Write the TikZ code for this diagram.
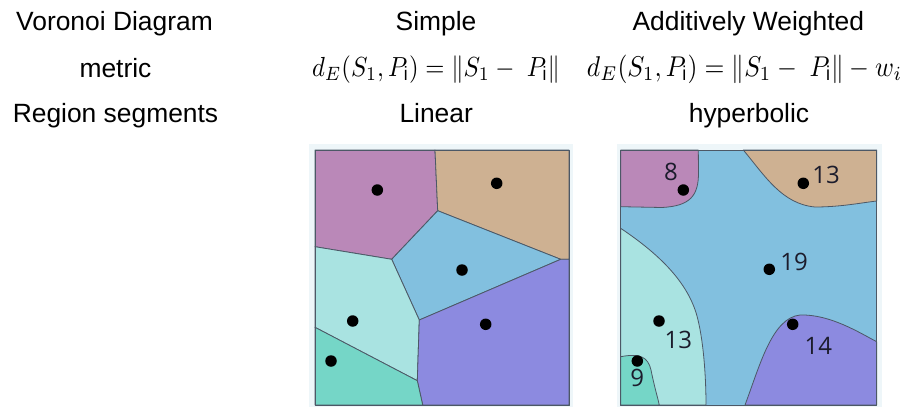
\documentclass[tikz,border=0pt]{standalone}
\usepackage{fontspec}
\usepackage{graphicx}
\setmainfont{Liberation Sans}
\newfontfamily\numfont{Open Sans}
\definecolor{cpurple}{HTML}{BA88B8}
\definecolor{ctan}{HTML}{CEB192}
\definecolor{cblue}{HTML}{82C0DF}
\definecolor{ccyan}{HTML}{A9E3E1}
\definecolor{cviolet}{HTML}{8C8AE0}
\definecolor{cteal}{HTML}{75D6C7}
\definecolor{cpale}{HTML}{EEF6F9}
\definecolor{cedge}{HTML}{4C5866}
\definecolor{cnum}{HTML}{1C1C2C}
\tikzset{
  hdr/.style={anchor=base, inner sep=0pt, font=\fontsize{26.4}{30}\selectfont},
  frm/.style={anchor=base, inner sep=0pt},
  region/.style={draw=cedge, line width=0.8pt, line join=round},
  site/.style={circle, fill=black, inner sep=0pt, minimum size=11.5pt},
  wlab/.style={inner sep=0pt, text=cnum, font=\numfont\fontsize{24}{28}\selectfont},
  panelbg/.style={fill=cpale, draw=none}
}
\begin{document}
\begin{tikzpicture}[x=1pt,y=-1pt]
\useasboundingbox (0,0) rectangle (908,407);
% header texts
\node[hdr] (t1) at (114.5,30) {Voronoi Diagram};
\node[hdr] (t2) at (436,30) {Simple};
\node[hdr] (t3) at (748.3,30) {Additively Weighted};
\node[hdr] (t4) at (115.5,77) {metric};
\node[frm] (f1) at (436,76) {\scalebox{1}[1.12]{\resizebox{248pt}{!}{$d_E(S_1,P_{\mathrm{i}}) = \|S_1 -\ P_{\mathrm{i}}\|$}}};
\node[frm] (f2) at (744.5,76) {\scalebox{1}[1.12]{\resizebox{315pt}{!}{$d_E(S_1,P_{\mathrm{i}}) = \|S_1 -\ P_{\mathrm{i}}\| - w_i$}}};
\node[hdr] (t5) at (115.5,122) {Region segments};
\node[hdr] (t6) at (436.2,122) {Linear};
\node[hdr] (t7) at (749,122) {hyperbolic};

% ---------- left panel (simple) ----------
\fill[panelbg] (309,144) rectangle (573,407);
\coordinate (TL) at (315,150);
\coordinate (TR) at (569,150);
\coordinate (BR) at (569,405);
\coordinate (BL) at (315,405);
\coordinate (T) at (435,150);
\coordinate (A) at (437.7,210.7);
\coordinate (B) at (391.7,259.3);
\coordinate (C) at (560.7,259.3);
\coordinate (R) at (569,259.3);
\coordinate (L1) at (315,246.7);
\coordinate (D) at (419.3,320);
\coordinate (E) at (417.3,380.7);
\coordinate (L2) at (315,327.3);
\coordinate (Bt) at (422.7,405);
\filldraw[region, fill=cpurple] (TL) -- (T) -- (A) -- (B) -- (L1) -- cycle;
\filldraw[region, fill=ctan] (T) -- (TR) -- (R) -- (C) -- (A) -- cycle;
\filldraw[region, fill=cblue] (A) -- (C) -- (D) -- (B) -- cycle;
\filldraw[region, fill=ccyan] (L1) -- (B) -- (D) -- (E) -- (L2) -- cycle;
\filldraw[region, fill=cviolet] (D) -- (C) -- (R) -- (BR) -- (Bt) -- (E) -- cycle;
\filldraw[region, fill=cteal] (L2) -- (E) -- (Bt) -- (BL) -- cycle;
\draw[region] (TL) rectangle (BR);
\node[site] (s1) at (377.3,190) {};
\node[site] (s2) at (496.7,183.3) {};
\node[site] (s3) at (462,270) {};
\node[site] (s4) at (352.7,321) {};
\node[site] (s5) at (485.7,324.3) {};
\node[site] (s6) at (331,361) {};

% ---------- right panel (additively weighted) ----------
\fill[panelbg] (616.7,144) rectangle (881.7,407);
\coordinate (rTL) at (620.7,150);
\coordinate (rBR) at (876.7,405);
\fill[cblue] (rTL) rectangle (rBR);
% purple
\filldraw[region, fill=cpurple] (620.7,150) -- (698.3,150) -- (698.5,172)
  .. controls (698.7,196) and (690,206) .. (662,207.5) -- (620.7,206.7) -- cycle;
% tan
\filldraw[region, fill=ctan] (743.3,150) .. controls (765,176) and (782,204) .. (815,207)
  .. controls (840,207) and (860,203) .. (876.7,201) -- (876.7,150) -- cycle;
% cyan
\filldraw[region, fill=ccyan] (620.7,228.3) .. controls (662,256) and (690,285) .. (698,320)
  .. controls (704,345) and (706,380) .. (706,405) -- (620.7,405) -- cycle;
% teal
\filldraw[region, fill=cteal] (620.7,356.7) .. controls (640,353) and (648,357) .. (651,370)
  .. controls (654,385) and (657,395) .. (659.3,405) -- (620.7,405) -- cycle;
% violet
\filldraw[region, fill=cviolet] (745,405) .. controls (760,365) and (772,318) .. (800,315)
  .. controls (830,314) and (860,333) .. (876.7,341.7) -- (876.7,405) -- cycle;
\draw[region] (rTL) rectangle (rBR);
\node[site] (w1) at (683.3,190) {};
\node[site] (w2) at (803.3,183.3) {};
\node[site] (w3) at (769.3,269.3) {};
\node[site] (w4) at (659,321) {};
\node[site] (w5) at (792.7,324.3) {};
\node[site] (w6) at (637.3,361) {};
\node[wlab] (n1) at (671,172.3) {8};
\node[wlab] (n2) at (826,175) {13};
\node[wlab] (n3) at (794,261.7) {19};
\node[wlab] (n4) at (678.3,340) {13};
\node[wlab] (n5) at (818.3,346) {14};
\node[wlab] (n6) at (637.3,378.3) {9};
\end{tikzpicture}
\end{document}
